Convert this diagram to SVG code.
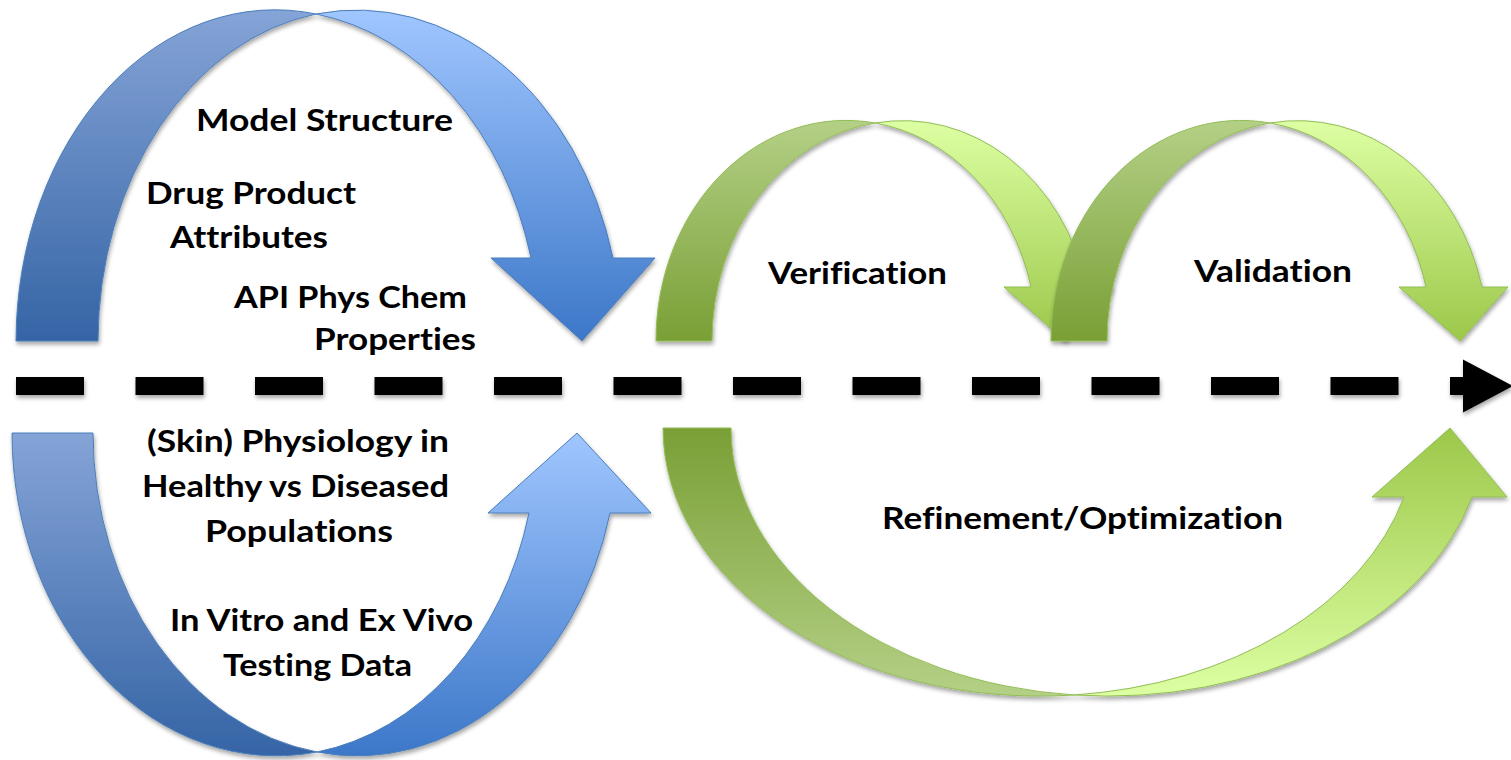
<svg xmlns="http://www.w3.org/2000/svg" width="1511" height="760" viewBox="0 0 1511 760">
  <style>
    .lbl { font-family: "Lato", "Liberation Sans", sans-serif; font-weight: bold; font-size: 30px; fill: #000; font-variant-ligatures: none; font-feature-settings: "liga" 0; }
    .bl { stroke: #4a7ebb; stroke-width: 1; }
    .gr { stroke: #92bd55; stroke-width: 1; }
  </style>
  <defs>
    <filter id="sh" x="-10%" y="-10%" width="120%" height="130%">
      <feDropShadow dx="1" dy="3" stdDeviation="2" flood-color="#000" flood-opacity="0.35"/>
    </filter>
    <filter id="shLine" filterUnits="userSpaceOnUse" x="0" y="340" width="1511" height="100">
      <feDropShadow dx="1" dy="3" stdDeviation="2" flood-color="#000" flood-opacity="0.35"/>
    </filter>
    <linearGradient id="bBack" x1="0" y1="0" x2="0" y2="1">
      <stop offset="0" stop-color="#85a4d7"/>
      <stop offset="1" stop-color="#3564a5"/>
    </linearGradient>
    <linearGradient id="bFront" x1="0" y1="0" x2="0" y2="1">
      <stop offset="0" stop-color="#a0c6ff"/>
      <stop offset="1" stop-color="#3c77c8"/>
    </linearGradient>
    <linearGradient id="gBack" x1="0" y1="0" x2="0" y2="1">
      <stop offset="0" stop-color="#b4d086"/>
      <stop offset="1" stop-color="#7a9f36"/>
    </linearGradient>
    <linearGradient id="gFront" x1="0" y1="0" x2="0" y2="1">
      <stop offset="0" stop-color="#ddffa3"/>
      <stop offset="1" stop-color="#9cc84a"/>
    </linearGradient>
    <linearGradient id="gBackR" x1="0" y1="0" x2="0" y2="1">
      <stop offset="0" stop-color="#7a9f36"/>
      <stop offset="1" stop-color="#b4d086"/>
    </linearGradient>
    <linearGradient id="gFrontR" x1="0" y1="0" x2="0" y2="1">
      <stop offset="0" stop-color="#9cc84a"/>
      <stop offset="1" stop-color="#ddffa3"/>
    </linearGradient>
    <marker id="ah" markerUnits="userSpaceOnUse" markerWidth="52" markerHeight="56" refX="0" refY="26.5" orient="auto" overflow="visible">
      <path d="M0,0 L50,26.5 L0,53 Z" fill="#000"/>
    </marker>
  </defs>

  <g id="blue-top-arrow" filter="url(#sh)">
    <path class="bl" fill="url(#bBack)" d="M16,341 A259 332 0 0 1 316,14 A259 332 0 0 0 98,341 Z"/>
    <path class="bl" fill="url(#bFront)" d="M316,14 A265 332 0 0 1 613,258 L655,258 L582,341 L491,258 L531,258 A265 332 0 0 0 316,14 Z"/>
  </g>

  <g id="blue-bottom-arrow" filter="url(#sh)">
    <path class="bl" fill="url(#bBack)" d="M12,433 L93,433 A264.5 323 0 0 0 317,752 A264.5 323 0 0 1 12,433 Z"/>
    <path class="bl" fill="url(#bFront)" d="M317,752 A261 323 0 0 0 610,513 L651,513 L577,433 L488,513 L529,513 A261 323 0 0 1 317,752 Z"/>
  </g>

  <g id="verification-arrow" filter="url(#sh)">
    <path class="gr" fill="url(#gBack)" d="M656,341 A190 220 0 0 1 875,123 A190 220 0 0 0 712,341 Z"/>
    <path class="gr" fill="url(#gFront)" d="M875,123 A190 220 0 0 1 1087,287 L1113,287 L1065,341 L1004,287 L1031,287 A190 220 0 0 0 875,123 Z"/>
  </g>

  <g id="validation-arrow" filter="url(#sh)">
    <path class="gr" fill="url(#gBack)" d="M1051,341 A190 220 0 0 1 1270,123 A190 220 0 0 0 1107,341 Z"/>
    <path class="gr" fill="url(#gFront)" d="M1270,123 A190 220 0 0 1 1482,287 L1508,287 L1460,341 L1399,287 L1426,287 A190 220 0 0 0 1270,123 Z"/>
  </g>

  <g id="refinement-arrow" filter="url(#sh)">
    <path class="gr" fill="url(#gBackR)" d="M663,428 L731,428 A377 268 0 0 0 1074,695 A377 268 0 0 1 663,428 Z"/>
    <path class="gr" fill="url(#gFrontR)" d="M1074,695 A377 268 0 0 0 1472,497 L1507,497 L1450,428 L1372,497 L1404,497 A377 268 0 0 1 1074,695 Z"/>
  </g>

  <g id="connectors" filter="url(#shLine)">
    <line x1="16" y1="386" x2="1463" y2="386" stroke="#000" stroke-width="18" stroke-dasharray="68 51.5" marker-end="url(#ah)"/>
  </g>

  <g id="label-model-structure"><text class="lbl" x="196" y="131" textLength="257" lengthAdjust="spacingAndGlyphs">Model Structure</text></g>
  <g id="label-drug-product"><text class="lbl" x="146" y="204" textLength="210" lengthAdjust="spacingAndGlyphs">Drug Product</text>
    <text class="lbl" x="170" y="248" textLength="158" lengthAdjust="spacingAndGlyphs">Attributes</text></g>
  <g id="label-api"><text class="lbl" x="234" y="308" textLength="233" lengthAdjust="spacingAndGlyphs">API Phys Chem</text>
    <text class="lbl" x="314" y="350" textLength="162" lengthAdjust="spacingAndGlyphs">Properties</text></g>
  <g id="label-physiology"><text class="lbl" x="147" y="452" textLength="302" lengthAdjust="spacingAndGlyphs">(Skin) Physiology in</text>
    <text class="lbl" x="142" y="497" textLength="307" lengthAdjust="spacingAndGlyphs">Healthy vs Diseased</text>
    <text class="lbl" x="205" y="542" textLength="188" lengthAdjust="spacingAndGlyphs">Populations</text></g>
  <g id="label-testing"><text class="lbl" x="170" y="631" textLength="303" lengthAdjust="spacingAndGlyphs">In Vitro and Ex Vivo</text>
    <text class="lbl" x="223" y="676" textLength="189" lengthAdjust="spacingAndGlyphs">Testing Data</text></g>
  <g id="label-verification"><text class="lbl" x="768" y="284" textLength="179" lengthAdjust="spacingAndGlyphs">Verification</text></g>
  <g id="label-validation"><text class="lbl" x="1194" y="282" textLength="158" lengthAdjust="spacingAndGlyphs">Validation</text></g>
  <g id="label-refinement"><text class="lbl" x="882" y="529" textLength="401" lengthAdjust="spacingAndGlyphs">Refinement/Optimization</text></g>
</svg>
